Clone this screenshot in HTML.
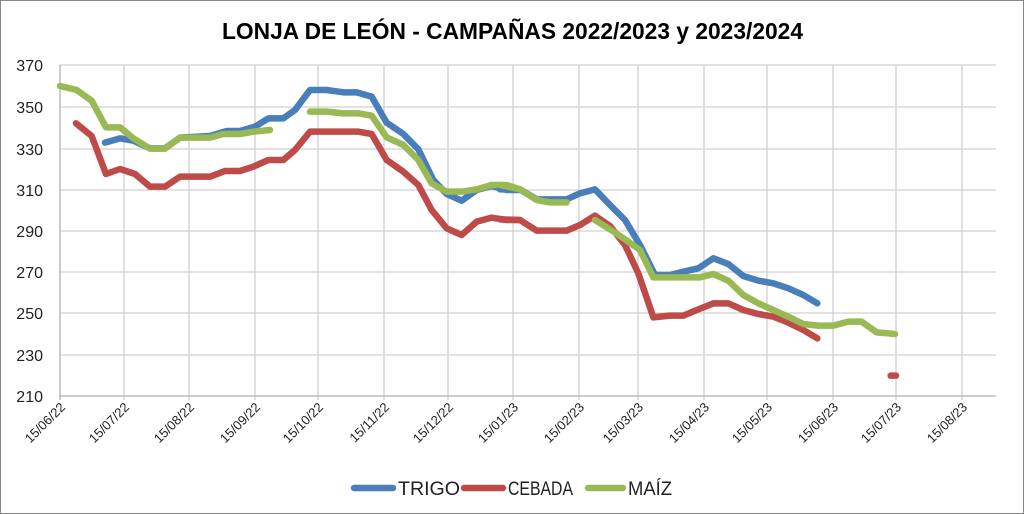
<!DOCTYPE html>
<html><head><meta charset="utf-8"><style>
body{margin:0;background:#fff}
svg{display:block;font-family:"Liberation Sans",sans-serif}
</style></head><body>
<svg width="1024" height="514" viewBox="0 0 1024 514">
<rect x="0.5" y="0.5" width="1023" height="513" fill="#fff" stroke="#888"/>
<text x="222" y="39" font-size="23" font-weight="bold" textLength="581" lengthAdjust="spacingAndGlyphs">LONJA DE LEÓN - CAMPAÑAS 2022/2023 y 2023/2024</text>
<g stroke="#d0d0d0" stroke-width="1.3">
<line x1="60" x2="996" y1="65" y2="65"/><line x1="60" x2="996" y1="107" y2="107"/><line x1="60" x2="996" y1="149" y2="149"/><line x1="60" x2="996" y1="190" y2="190"/><line x1="60" x2="996" y1="231" y2="231"/><line x1="60" x2="996" y1="272" y2="272"/><line x1="60" x2="996" y1="313" y2="313"/><line x1="60" x2="996" y1="355" y2="355"/>
<line x1="124" x2="124" y1="65" y2="400"/><line x1="189" x2="189" y1="65" y2="400"/><line x1="255" x2="255" y1="65" y2="400"/><line x1="318" x2="318" y1="65" y2="400"/><line x1="384" x2="384" y1="65" y2="400"/><line x1="448" x2="448" y1="65" y2="400"/><line x1="513" x2="513" y1="65" y2="400"/><line x1="579" x2="579" y1="65" y2="400"/><line x1="638" x2="638" y1="65" y2="400"/><line x1="704" x2="704" y1="65" y2="400"/><line x1="767" x2="767" y1="65" y2="400"/><line x1="833" x2="833" y1="65" y2="400"/><line x1="896" x2="896" y1="65" y2="400"/><line x1="962" x2="962" y1="65" y2="400"/>
</g>
<line x1="60" x2="996" y1="396" y2="396" stroke="#b0b0b0" stroke-width="1.3"/>
<line x1="60" x2="60" y1="65" y2="400" stroke="#b0b0b0" stroke-width="1.3"/>
<g font-size="16" text-anchor="end" fill="#222">
<text x="43" y="71">370</text><text x="43" y="113">350</text><text x="43" y="155">330</text><text x="43" y="196">310</text><text x="43" y="237">290</text><text x="43" y="278">270</text><text x="43" y="319">250</text><text x="43" y="361">230</text><text x="43" y="402">210</text>
</g>
<g font-size="13" text-anchor="end" fill="#222">
<text transform="translate(66,408) rotate(-45)">15/06/22</text>
<text transform="translate(130,408) rotate(-45)">15/07/22</text>
<text transform="translate(195,408) rotate(-45)">15/08/22</text>
<text transform="translate(261,408) rotate(-45)">15/09/22</text>
<text transform="translate(324,408) rotate(-45)">15/10/22</text>
<text transform="translate(390,408) rotate(-45)">15/11/22</text>
<text transform="translate(454,408) rotate(-45)">15/12/22</text>
<text transform="translate(519,408) rotate(-45)">15/01/23</text>
<text transform="translate(585,408) rotate(-45)">15/02/23</text>
<text transform="translate(644,408) rotate(-45)">15/03/23</text>
<text transform="translate(710,408) rotate(-45)">15/04/23</text>
<text transform="translate(773,408) rotate(-45)">15/05/23</text>
<text transform="translate(839,408) rotate(-45)">15/06/23</text>
<text transform="translate(902,408) rotate(-45)">15/07/23</text>
<text transform="translate(968,408) rotate(-45)">15/08/23</text>
</g>
<g fill="none" stroke-width="6.5" stroke-linecap="round" stroke-linejoin="round">
<g transform="translate(0,50) scale(0.33333)">
<polyline vector-effect="non-scaling-stroke" stroke="#4a7ebb" points="315,278 360,265 400,272 450,295 495,295 540,263 630,258 680,243 720,243 765,230 805,205 850,205 885,180 930,120 980,120 1030,127 1070,127 1115,140 1160,218 1210,252 1255,298 1300,390 1340,432 1385,452 1430,420 1475,408 1520,420 1560,420"/>
<polyline vector-effect="non-scaling-stroke" stroke="#be4b48" points="228,220 275,258 318,372 360,357 405,372 450,410 495,410 540,380 630,380 675,363 720,363 760,350 805,330 850,330 885,300 930,245 1030,245 1075,245 1115,252 1160,330 1210,365 1255,405 1295,480 1340,535 1385,555 1430,515 1475,503 1520,510 1560,510"/>
<polyline vector-effect="non-scaling-stroke" stroke="#98b954" points="180,108 230,120 275,152 318,232 360,232 400,265 450,296 495,296 540,263 630,263 670,252 720,252 760,245 810,240"/>
<polyline vector-effect="non-scaling-stroke" stroke="#98b954" points="930,185 980,185 1030,190 1075,190 1115,197 1160,262 1210,285 1255,330 1295,400 1340,425 1385,425 1430,418 1475,405 1520,405 1560,418"/>
</g>
<g transform="translate(500,150) scale(0.33333)">
<polyline vector-effect="non-scaling-stroke" stroke="#4a7ebb" points="0,118 60,118 110,148 200,148 240,130 285,118 330,165 375,210 420,285 465,375 510,375 550,365 595,355 640,325 685,342 730,378 775,392 820,400 865,415 910,435 952,460"/>
<polyline vector-effect="non-scaling-stroke" stroke="#be4b48" points="0,208 60,210 110,242 200,242 240,225 285,197 330,228 375,285 415,370 460,502 510,497 550,497 595,478 640,460 685,460 730,480 775,492 820,500 865,518 910,540 952,565"/>
<polyline vector-effect="non-scaling-stroke" stroke="#be4b48" points="1172,677 1188,677"/>
<polyline vector-effect="non-scaling-stroke" stroke="#98b954" points="0,105 60,118 110,150 150,157 200,157"/>
<polyline vector-effect="non-scaling-stroke" stroke="#98b954" points="285,210 330,238 375,268 420,300 460,382 510,382 550,382 600,382 640,372 685,392 730,435 775,460 820,480 865,500 910,522 955,527 1000,527 1045,515 1085,515 1130,547 1185,552"/>
</g>
<line x1="354" x2="393" y1="488" y2="488" stroke="#4a7ebb"/>
<line x1="464" x2="503" y1="488" y2="488" stroke="#be4b48"/>
<line x1="588" x2="623" y1="488" y2="488" stroke="#98b954"/>
</g>
<g font-size="19" fill="#222">
<text x="398" y="495" textLength="62" lengthAdjust="spacingAndGlyphs">TRIGO</text>
<text x="508" y="495" textLength="65" lengthAdjust="spacingAndGlyphs">CEBADA</text>
<text x="628" y="495" textLength="44" lengthAdjust="spacingAndGlyphs">MAÍZ</text>
</g>
</svg>
</body></html>
